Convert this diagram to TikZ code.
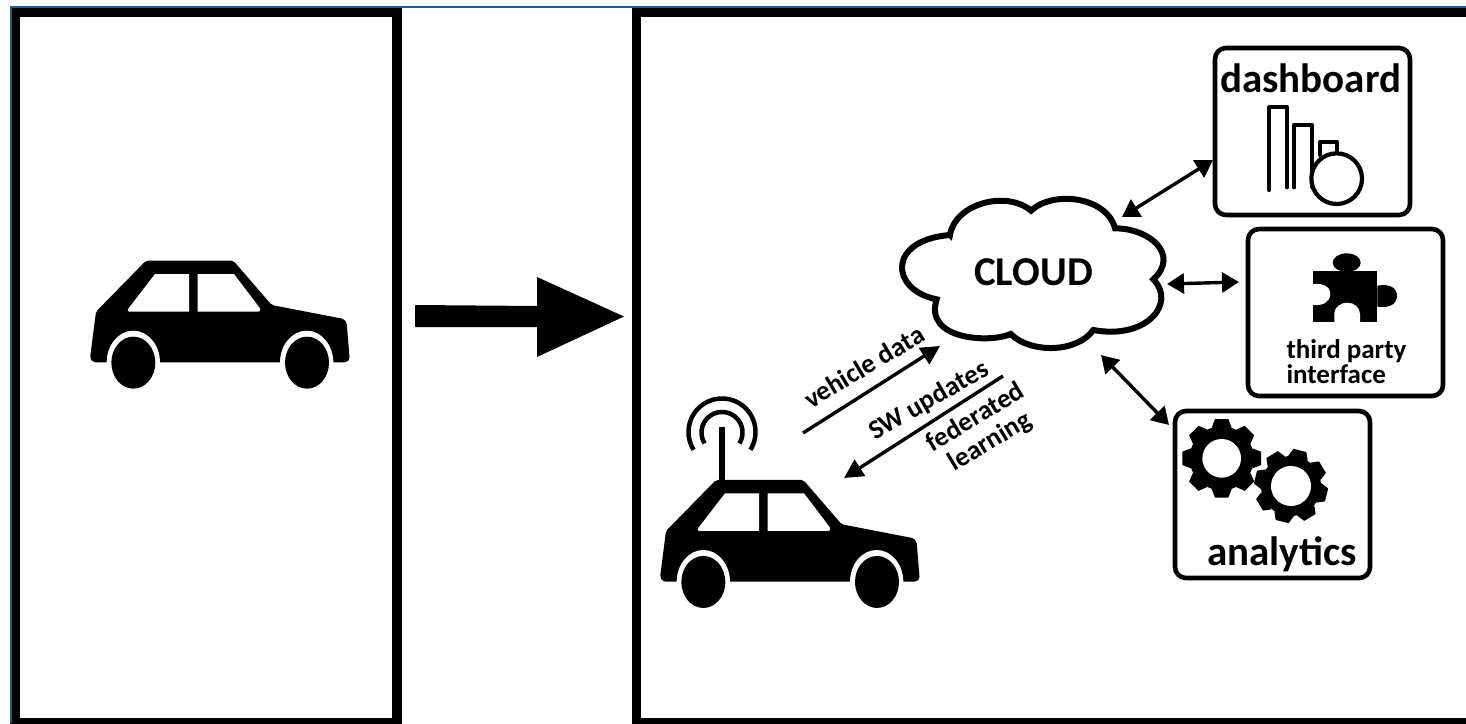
\documentclass[tikz,border=0pt]{standalone}
\usepackage{fontspec}
\setmainfont{Carlito}[Ligatures=TeX]
\usetikzlibrary{arrows.meta}
\definecolor{edgeblue}{HTML}{1F5F8F}
\tikzset{
  frame/.style={draw=black,line width=9.5pt,fill=white},
  panel/.style={draw=black,line width=4.6pt,rounded corners=11pt,fill=white,minimum width=195pt,minimum height=167pt,inner sep=0pt,outer sep=0pt},
  link/.style={line width=3.4pt,draw=black},
  both/.style={link,{Triangle[width=20pt,length=17pt]}-{Triangle[width=20pt,length=17pt]}},
  single/.style={link,-{Triangle[width=19pt,length=19pt]}},
  lab/.style={font=\bfseries\fontsize{27}{27}\selectfont,inner sep=0pt,outer sep=0pt,align=center},
  big/.style={font=\bfseries\fontsize{41}{41}\selectfont,inner sep=0pt,outer sep=0pt},
  icon/.style={line width=4.2pt,draw=black,line join=round,line cap=round}
}
\newcommand{\carshape}[2]{%
  \begin{scope}[shift={(#1,#2)},scale=1/3]
    \fill[black,rounded corners=2pt] (228,62) -- (490,62) -- (605,195) -- (822,237) -- (830,248) -- (839,358) -- (830,367) -- (70,367) -- (60,355) -- (78,215) -- cycle;
    \fill[white] (190,368) ellipse [x radius=80,y radius=96];
    \fill[white] (710,368) ellipse [x radius=80,y radius=96];
    \fill[black] (190,368) ellipse [x radius=66,y radius=78];
    \fill[black] (711,368) ellipse [x radius=66,y radius=78];
    \fill[white] (255,102) -- (357,102) -- (357,215) -- (178,215) .. controls (172,215) and (172,210) .. (175,206) -- cycle;
    \fill[white] (383,102) -- (492,102) -- (570,205) .. controls (573,212) and (570,215) .. (564,215) -- (383,215) -- cycle;
  \end{scope}}
\newcommand{\gearshape}[6]{% cx cy root hole outer rotation
  \begin{scope}[shift={(#1,#2)},rotate=#6]
    \fill[black] (0,0) circle [radius=#3];
    \foreach \a in {0,45,...,315} {
      \fill[black,rotate=\a] (-30,-#3+4) -- (-20,-#5) -- (20,-#5) -- (30,-#3+4) -- cycle;
    }
    \fill[white] (0,0) circle [radius=#4];
  \end{scope}}
\begin{document}
\begin{tikzpicture}[x=1pt,y=1pt,yscale=-1]
\useasboundingbox (0,0) rectangle (1466,723);
\fill[white] (0,0) rectangle (1466,723);
% outer frames
\draw[frame] (15.2,12.5) rectangle (397,722.5);
\draw[frame] (636.5,12.5) rectangle (1490,723);
\draw[edgeblue,line width=2pt] (10.5,723) -- (10.5,6.5) -- (1466,6.5);
% left car
\carshape{70}{240}
% big arrow
\fill[black] (415,305) -- (537,306) -- (537,277) -- (624,316.5) -- (537,357) -- (537,327) -- (415,327) -- cycle;
% right car
\carshape{640}{459.3}
% antenna
\draw[line width=5.5pt,black] (722,427) -- (722,482);
\draw[line width=4.5pt,black] plot[domain=-32:212,samples=50] ({722+33.5*cos(\x)},{432-33.5*sin(\x)});
\draw[line width=4.5pt,black] plot[domain=-32:212,samples=50] ({722+20.5*cos(\x)},{432.5-20.5*sin(\x)});
% cloud
\begin{scope}[shift={(890,180)},scale=1/3]
  \draw[fill=white,line width=6pt,line join=miter] (180,165)
    .. controls (195,70) and (350,30) .. (423,92)
    .. controls (490,30) and (650,50) .. (675,145)
    .. controls (780,145) and (870,225) .. (790,298)
    .. controls (860,370) and (770,480) .. (610,450)
    .. controls (560,520) and (420,520) .. (362,462)
    .. controls (300,490) and (100,480) .. (140,358)
    .. controls (0,330) and (-10,180) .. cycle;
\end{scope}
\node[big] (cloud) at (1033.5,272) {CLOUD};
% panels
\node[panel,anchor=north west] (dash) at (1215,48) {};
\node[panel,anchor=north west] (third) at (1248,229) {};
\node[panel,anchor=north west] (ana) at (1175,411) {};
\node[big,anchor=base] (dashtxt) at (1310.5,92) {dashboard};
\node[big,anchor=base] (anatxt) at (1282,565) {analytics};
\node[lab,anchor=north west,align=left] (thirdtxt) at (1286.5,339.5) {third party\\[-2pt]interface};
% dashboard icon
\begin{scope}[shift={(1160,30)},scale=1/3]
  \draw[icon] (328,480) -- (328,232) -- (381,232) -- (381,472);
  \draw[icon] (403,472) -- (403,284) -- (455,284) -- (455,470);
  \draw[icon] (480,375) -- (480,335) -- (530,335) -- (530,370);
  \draw[icon,fill=white] (530,446) circle [radius=76];
\end{scope}
% puzzle
\begin{scope}[shift={(1160,220)},scale=1/3]
  \fill[black] (460,152) rectangle (652,305);
  \fill[black] (560,128) ellipse [x radius=42,y radius=28];
  \fill[black] (652,197) .. controls (690,190) and (712,205) .. (711,228) .. controls (710,252) and (690,265) .. (652,260) -- cycle;
  \fill[white] (459,192) .. controls (495,188) and (512,205) .. (511,222) .. controls (510,245) and (490,258) .. (459,255) -- cycle;
  \fill[white] (523,306) -- (523,280) .. controls (525,258) and (545,248) .. (562,248) .. controls (582,248) and (600,262) .. (600,282) -- (600,306) -- cycle;
\end{scope}
% gears
\begin{scope}[shift={(1160,400)},scale=1/3]
  \gearshape{185}{175}{96}{58}{118}{0}
  \gearshape{393}{258}{90}{60}{110}{14}
\end{scope}
% connectors
\coordinate (vdA) at (803,433);
\coordinate (vdB) at (940,346);
\coordinate (swA) at (1003,376);
\coordinate (swB) at (844,478);
\coordinate (daA) at (1122,217);
\coordinate (daB) at (1213,160);
\coordinate (thA) at (1167,284);
\coordinate (thB) at (1239,282);
\coordinate (anA) at (1101,355);
\coordinate (anB) at (1169,425);
\draw[single] (vdA) -- (vdB);
\draw[single] (swA) -- (swB);
\draw[both] (daA) -- (daB);
\draw[both] (thA) -- (thB);
\draw[both] (anA) -- (anB);
% labels
\node[lab,rotate=31] (vd) at (864,366.5) {vehicle data};
\node[lab,rotate=30] (sw) at (929,401) {SW updates};
\node[lab,rotate=31] (fl) at (983,430) {federated\\[1pt]learning};
\end{tikzpicture}
\end{document}
